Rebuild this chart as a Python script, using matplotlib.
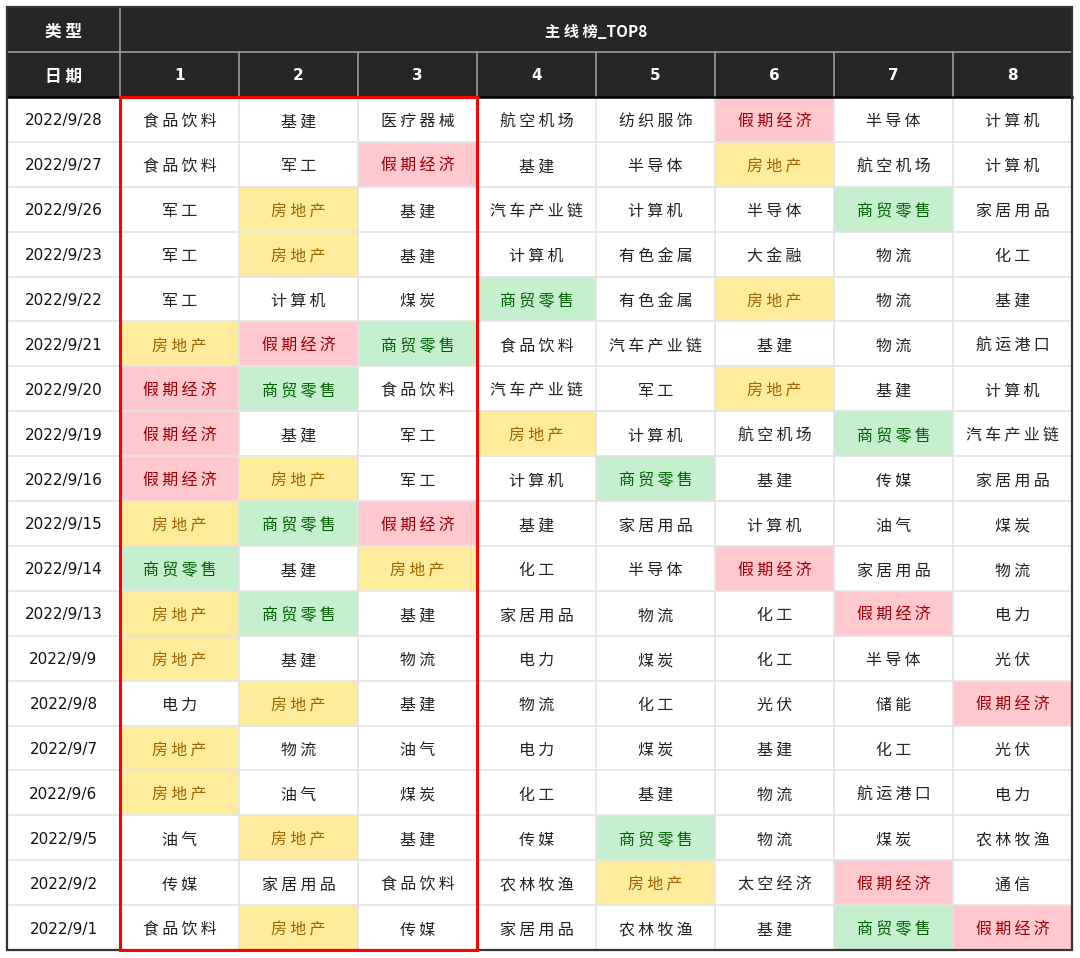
import matplotlib
matplotlib.use('Agg')
import matplotlib.pyplot as plt
from matplotlib.patches import Rectangle

plt.rcParams['font.family'] = ['Noto Sans CJK SC', 'DejaVu Sans']

dates = ['2022/9/28', '2022/9/27', '2022/9/26', '2022/9/23', '2022/9/22', '2022/9/21',
         '2022/9/20', '2022/9/19', '2022/9/16', '2022/9/15', '2022/9/14', '2022/9/13',
         '2022/9/9', '2022/9/8', '2022/9/7', '2022/9/6', '2022/9/5', '2022/9/2', '2022/9/1']
ranks = ['1', '2', '3', '4', '5', '6', '7', '8']

rows = [
    ['食品饮料', '基建', '医疗器械', '航空机场', '纺织服饰', '假期经济', '半导体', '计算机'],
    ['食品饮料', '军工', '假期经济', '基建', '半导体', '房地产', '航空机场', '计算机'],
    ['军工', '房地产', '基建', '汽车产业链', '计算机', '半导体', '商贸零售', '家居用品'],
    ['军工', '房地产', '基建', '计算机', '有色金属', '大金融', '物流', '化工'],
    ['军工', '计算机', '煤炭', '商贸零售', '有色金属', '房地产', '物流', '基建'],
    ['房地产', '假期经济', '商贸零售', '食品饮料', '汽车产业链', '基建', '物流', '航运港口'],
    ['假期经济', '商贸零售', '食品饮料', '汽车产业链', '军工', '房地产', '基建', '计算机'],
    ['假期经济', '基建', '军工', '房地产', '计算机', '航空机场', '商贸零售', '汽车产业链'],
    ['假期经济', '房地产', '军工', '计算机', '商贸零售', '基建', '传媒', '家居用品'],
    ['房地产', '商贸零售', '假期经济', '基建', '家居用品', '计算机', '油气', '煤炭'],
    ['商贸零售', '基建', '房地产', '化工', '半导体', '假期经济', '家居用品', '物流'],
    ['房地产', '商贸零售', '基建', '家居用品', '物流', '化工', '假期经济', '电力'],
    ['房地产', '基建', '物流', '电力', '煤炭', '化工', '半导体', '光伏'],
    ['电力', '房地产', '基建', '物流', '化工', '光伏', '储能', '假期经济'],
    ['房地产', '物流', '油气', '电力', '煤炭', '基建', '化工', '光伏'],
    ['房地产', '油气', '煤炭', '化工', '基建', '物流', '航运港口', '电力'],
    ['油气', '房地产', '基建', '传媒', '商贸零售', '物流', '煤炭', '农林牧渔'],
    ['传媒', '家居用品', '食品饮料', '农林牧渔', '房地产', '太空经济', '假期经济', '通信'],
    ['食品饮料', '房地产', '传媒', '家居用品', '农林牧渔', '基建', '商贸零售', '假期经济'],
]

# highlight style per sector: (fill, text colour)
highlight = {
    '房地产': ('#ffeb9c', '#9c6500'),
    '假期经济': ('#ffc7ce', '#9c0006'),
    '商贸零售': ('#c6efce', '#006100'),
}

fig = plt.figure(figsize=(10.8, 9.58), dpi=100)
ax = fig.add_axes([0, 0, 1, 1])
ax.set_xlim(0, 1080)
ax.set_ylim(958, 0)
ax.axis('off')

left, date_w, col_w = 7, 113, 119
top, head_h = 7, 45
body_top = top + 2 * head_h
row_h = (950 - body_top) / len(dates)
right = left + date_w + col_w * len(ranks)
bottom = body_top + row_h * len(dates)
dark = '#262626'
grid_head = '#9a9a9a'
grid_body = '#e4e4e4'
cjk_dy = 2.5   # Noto CJK sits a bit high when centred

def wide(s):
    # spread CJK characters a little like the original sheet
    return '\u2009'.join(s) if all(ord(c) > 0x2e80 for c in s) else s

# header background
ax.add_patch(Rectangle((left, top), right - left, 2 * head_h, facecolor=dark, edgecolor='none'))
ax.plot([left, right], [top + head_h, top + head_h], color=grid_head, lw=1.2)
ax.plot([left + date_w] * 2, [top, body_top], color=grid_head, lw=1.2)
for j in range(1, len(ranks)):
    x = left + date_w + j * col_w
    ax.plot([x, x], [top + head_h, body_top], color=grid_head, lw=1.2)

ax.text(left + date_w / 2, top + head_h / 2 + cjk_dy, '类 型', color='white', ha='center',
        va='center', fontsize=12, fontweight='bold')
ax.text(left + date_w / 2, top + 1.5 * head_h + cjk_dy, '日 期', color='white', ha='center',
        va='center', fontsize=12, fontweight='bold')
ax.text((left + date_w + right) / 2, top + head_h / 2 + cjk_dy, '主 线 榜_TOP8', color='white',
        ha='center', va='center', fontsize=11, fontweight='bold')
for j, r in enumerate(ranks):
    ax.text(left + date_w + (j + 0.5) * col_w, top + 1.5 * head_h + 1, r, color='white',
            ha='center', va='center', fontsize=11, fontweight='bold', family='DejaVu Sans')

# body cells
for i, d in enumerate(dates):
    y = body_top + i * row_h
    ax.text(left + date_w / 2, y + row_h / 2 + 1.5, d, ha='center', va='center', fontsize=11,
            family='DejaVu Sans', color='#111111')
    for j, name in enumerate(rows[i]):
        x = left + date_w + j * col_w
        fill, tc = highlight.get(name, ('white', '#222222'))
        ax.add_patch(Rectangle((x, y), col_w, row_h, facecolor=fill, edgecolor='none'))
        ax.text(x + col_w / 2, y + row_h / 2 + cjk_dy, wide(name), ha='center', va='center',
                fontsize=11.5, color=tc)

# body grid
for i in range(1, len(dates)):
    y = body_top + i * row_h
    ax.plot([left, right], [y, y], color=grid_body, lw=1.2, zorder=2)
for j in range(len(ranks)):
    x = left + date_w + j * col_w
    ax.plot([x, x], [body_top, bottom], color=grid_body, lw=1.2, zorder=2)

ax.plot([left, right], [body_top, body_top], color='black', lw=1.8, zorder=3)
ax.add_patch(Rectangle((left, top), right - left, bottom - top, facecolor='none',
                       edgecolor='#333333', lw=1.6, zorder=4))

# red box round the top three
ax.add_patch(Rectangle((left + date_w, body_top), 3 * col_w, bottom - body_top,
                       facecolor='none', edgecolor='#ff0000', lw=2.2, zorder=5))

fig.savefig('out.png', dpi=100)
